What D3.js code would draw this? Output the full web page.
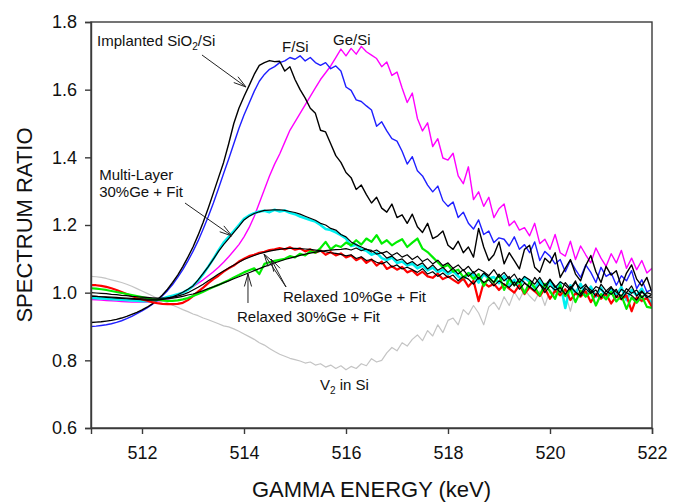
<!DOCTYPE html>
<html>
<head>
<meta charset="utf-8">
<script src="https://cdn.jsdelivr.net/npm/d3@7"></script>
<style>
  html, body { margin: 0; padding: 0; background: #fff; }
  svg { display: block; font-family: "Liberation Sans", Arial, sans-serif; }
</style>
</head>
<body>
<svg id="chart" width="679" height="502"></svg>
<script>
// ---------------- DATA ----------------
const energies = [
  511,511.1,511.2,511.3,511.4,511.5,511.6,511.7,511.8,511.9,
  512,512.1,512.2,512.3,512.4,512.5,512.6,512.7,512.8,512.9,
  513,513.1,513.2,513.3,513.4,513.5,513.6,513.7,513.8,513.9,
  514,514.1,514.2,514.3,514.4,514.5,514.6,514.7,514.8,514.9,
  515,515.1,515.2,515.3,515.4,515.5,515.6,515.7,515.8,515.9,
  516,516.1,516.2,516.3,516.4,516.5,516.6,516.7,516.8,516.9,
  517,517.1,517.2,517.3,517.4,517.5,517.6,517.7,517.8,517.9,
  518,518.1,518.2,518.3,518.4,518.5,518.6,518.7,518.8,518.9,
  519,519.1,519.2,519.3,519.4,519.5,519.6,519.7,519.8,519.9,
  520,520.1,520.2,520.3,520.4,520.5,520.6,520.7,520.8,520.9,
  521,521.1,521.2,521.3,521.4,521.5,521.6,521.7,521.8,521.9,
  522
];

const v2InSi = [
  1.048,1.047,1.045,1.042,1.038,1.034,1.030,1.025,1.019,1.012,
  1.005,0.998,0.991,0.983,0.976,0.970,0.963,0.957,0.950,0.944,
  0.937,0.932,0.925,0.920,0.914,0.908,0.902,0.899,0.893,0.886,
  0.878,0.870,0.862,0.852,0.845,0.835,0.826,0.818,0.812,0.806,
  0.802,0.798,0.792,0.795,0.786,0.790,0.780,0.786,0.776,0.784,
  0.772,0.782,0.776,0.790,0.784,0.805,0.795,0.800,0.822,0.838,
  0.828,0.852,0.842,0.862,0.875,0.858,0.888,0.872,0.905,0.882,
  0.918,0.925,0.905,0.950,0.935,0.962,0.940,0.905,0.958,0.972,
  0.950,0.988,0.962,1.002,0.978,1.010,0.990,0.975,1.005,0.962,
  1.008,0.992,1.012,0.998,0.945,1.008,0.990,1.018,1.000,0.988,
  1.012,0.985,1.000,1.008,0.982,0.995,1.010,0.988,0.972,0.995,
  0.975
];
const geSi = [
  0.980,0.979,0.978,0.977,0.976,0.975,0.974,0.973,0.972,0.972,
  0.972,0.972,0.973,0.975,0.977,0.980,0.985,0.992,1.000,1.008,
  1.018,1.028,1.038,1.050,1.062,1.075,1.090,1.106,1.124,1.142,
  1.165,1.192,1.225,1.265,1.305,1.345,1.380,1.410,1.445,1.480,
  1.505,1.530,1.555,1.580,1.605,1.630,1.650,1.670,1.695,1.720,
  1.700,1.722,1.705,1.728,1.712,1.702,1.692,1.668,1.682,1.642,
  1.652,1.605,1.562,1.590,1.515,1.478,1.502,1.432,1.455,1.398,
  1.392,1.412,1.345,1.322,1.372,1.275,1.298,1.255,1.282,1.222,
  1.248,1.262,1.198,1.212,1.185,1.192,1.168,1.205,1.145,1.158,
  1.128,1.172,1.118,1.108,1.152,1.098,1.138,1.112,1.088,1.132,
  1.102,1.078,1.115,1.088,1.125,1.072,1.102,1.068,1.095,1.058,
  1.072
];
const fSi = [
  0.900,0.901,0.903,0.905,0.908,0.912,0.917,0.923,0.930,0.938,
  0.946,0.955,0.965,0.977,0.991,1.006,1.024,1.045,1.068,1.094,
  1.122,1.153,1.188,1.225,1.265,1.308,1.352,1.395,1.440,1.485,
  1.525,1.560,1.595,1.625,1.645,1.660,1.668,1.680,1.685,1.695,
  1.690,1.700,1.685,1.695,1.680,1.672,1.680,1.662,1.670,1.655,
  1.608,1.598,1.570,1.565,1.552,1.540,1.492,1.505,1.478,1.455,
  1.448,1.418,1.380,1.402,1.360,1.345,1.318,1.298,1.315,1.272,
  1.255,1.268,1.222,1.238,1.205,1.188,1.215,1.172,1.182,1.148,
  1.162,1.158,1.138,1.165,1.128,1.142,1.118,1.150,1.095,1.122,
  1.108,1.085,1.098,1.062,1.095,1.068,1.045,1.082,1.060,1.030,
  1.075,1.048,1.058,1.022,1.050,1.035,1.065,1.012,1.038,1.002,
  1.010
];
const implantedSiO2 = [
  0.912,0.913,0.914,0.916,0.918,0.921,0.925,0.930,0.936,0.942,
  0.949,0.957,0.967,0.979,0.993,1.010,1.030,1.052,1.077,1.105,
  1.135,1.170,1.208,1.250,1.295,1.340,1.385,1.440,1.500,1.545,
  1.580,1.612,1.645,1.672,1.680,1.686,1.683,1.684,1.655,1.668,
  1.630,1.600,1.575,1.545,1.530,1.480,1.475,1.440,1.405,1.385,
  1.355,1.340,1.305,1.318,1.290,1.265,1.282,1.250,1.238,1.262,
  1.222,1.230,1.205,1.232,1.195,1.178,1.205,1.160,1.168,1.182,
  1.140,1.128,1.152,1.118,1.135,1.105,1.190,1.135,1.095,1.112,
  1.150,1.085,1.118,1.095,1.070,1.128,1.140,1.075,1.060,1.102,
  1.088,1.118,1.045,1.072,1.098,1.055,1.035,1.080,1.110,1.062,
  1.030,1.078,1.052,1.065,1.018,1.058,1.082,1.040,1.020,1.045,
  1.000
];
const multiLayer30 = [
  0.985,0.984,0.983,0.982,0.981,0.980,0.979,0.978,0.977,0.976,
  0.975,0.975,0.976,0.978,0.982,0.987,0.991,0.995,1.000,1.008,
  1.020,1.035,1.055,1.077,1.100,1.125,1.148,1.165,1.182,1.200,
  1.218,1.228,1.235,1.240,1.242,1.238,1.245,1.240,1.243,1.236,
  1.232,1.225,1.220,1.215,1.210,1.200,1.188,1.185,1.178,1.170,
  1.160,1.138,1.142,1.128,1.124,1.112,1.118,1.102,1.096,1.104,
  1.088,1.092,1.080,1.086,1.072,1.080,1.066,1.074,1.060,1.068,
  1.055,1.064,1.048,1.038,1.058,1.052,1.030,1.055,1.042,1.046,
  1.028,1.050,1.022,1.038,1.018,1.045,1.032,1.012,1.036,1.008,
  1.034,1.002,1.030,0.955,1.022,0.998,1.026,0.992,1.018,0.988,
  1.015,0.982,1.012,0.992,1.016,0.978,1.008,0.992,1.012,0.984,
  0.968
];
const relaxed10 = [
  1.022,1.022,1.020,1.017,1.013,1.008,1.002,0.996,0.990,0.985,
  0.980,0.976,0.972,0.969,0.967,0.966,0.966,0.967,0.970,0.978,
  0.990,1.003,1.015,1.028,1.040,1.050,1.062,1.072,1.080,1.092,
  1.100,1.108,1.112,1.118,1.121,1.126,1.128,1.132,1.128,1.134,
  1.127,1.131,1.122,1.128,1.118,1.125,1.112,1.120,1.110,1.116,
  1.104,1.110,1.096,1.104,1.088,1.098,1.080,1.092,1.070,1.078,
  1.068,1.076,1.060,1.066,1.052,1.062,1.048,1.044,1.056,1.040,
  1.048,1.038,1.028,1.042,1.018,1.035,0.975,1.030,1.018,1.026,
  1.008,1.025,1.012,1.000,1.022,0.996,1.016,1.004,0.990,1.012,
  0.982,1.006,0.992,1.010,0.978,0.998,0.988,1.004,0.972,0.996,
  0.982,0.996,0.968,0.990,0.980,0.992,0.945,0.986,0.976,0.984,
  0.958
];
const relaxed30 = [
  1.013,1.012,1.010,1.008,1.005,1.002,0.999,0.996,0.993,0.990,
  0.987,0.984,0.981,0.979,0.977,0.976,0.976,0.977,0.980,0.984,
  0.990,0.996,1.003,1.010,1.017,1.023,1.030,1.037,1.045,1.052,
  1.060,1.066,1.072,1.055,1.085,1.090,1.094,1.097,1.100,1.108,
  1.104,1.115,1.110,1.122,1.118,1.132,1.150,1.128,1.140,1.135,
  1.148,1.140,1.155,1.142,1.160,1.150,1.170,1.145,1.155,1.140,
  1.150,1.158,1.135,1.148,1.160,1.130,1.120,1.105,1.090,1.075,
  1.082,1.062,1.068,1.045,1.058,1.040,1.055,1.020,1.045,1.030,
  1.052,1.008,1.040,1.022,1.034,0.998,1.032,1.016,0.992,1.026,
  1.004,0.982,1.022,0.990,1.012,0.972,1.006,0.988,1.002,0.962,
  0.996,0.980,1.002,0.974,0.992,0.952,0.986,0.970,0.990,0.958,
  0.955
];
const fitMultiLayer30 = [
  0.990,0.989,0.988,0.986,0.985,0.984,0.983,0.982,0.981,0.980,
  0.979,0.978,0.978,0.978,0.980,0.984,0.988,0.994,1.001,1.010,
  1.020,1.038,1.057,1.077,1.099,1.122,1.142,1.160,1.178,1.196,
  1.215,1.226,1.234,1.239,1.243,1.244,1.245,1.245,1.243,1.240,
  1.237,1.232,1.226,1.220,1.214,1.205,1.200,1.190,1.185,1.172,
  1.165,1.150,1.142,1.135,1.128,1.125,1.114,1.118,1.102,1.108,
  1.095,1.100,1.085,1.092,1.080,1.088,1.070,1.082,1.066,1.075,
  1.060,1.072,1.055,1.068,1.048,1.062,1.040,1.058,1.045,1.030,
  1.055,1.035,1.048,1.020,1.042,1.030,1.015,1.045,1.025,1.010,
  1.038,1.020,1.000,1.030,1.012,1.035,0.995,1.020,1.008,0.990,
  1.025,1.005,1.018,0.985,1.010,1.000,1.020,0.990,1.005,0.985,
  0.995
];
const fitRelaxed10 = [
  1.000,0.999,0.998,0.997,0.995,0.994,0.992,0.991,0.989,0.988,
  0.987,0.986,0.985,0.984,0.984,0.985,0.987,0.990,0.994,1.000,
  1.008,1.016,1.025,1.035,1.045,1.055,1.064,1.073,1.082,1.090,
  1.098,1.104,1.110,1.115,1.119,1.123,1.126,1.128,1.130,1.131,
  1.131,1.130,1.129,1.128,1.126,1.124,1.121,1.118,1.116,1.113,
  1.109,1.112,1.101,1.106,1.095,1.098,1.090,1.085,1.092,1.076,
  1.082,1.070,1.075,1.068,1.060,1.071,1.055,1.062,1.048,1.058,
  1.045,1.052,1.035,1.048,1.040,1.025,1.045,1.030,1.038,1.020,
  1.035,1.025,1.015,1.032,1.010,1.028,1.018,1.005,1.025,1.000,
  1.020,1.008,1.015,0.995,1.018,1.002,0.990,1.012,0.998,1.008,
  0.985,1.005,0.995,1.010,0.980,1.000,0.992,0.978,1.002,0.990,
  0.985
];
const fitRelaxed30 = [
  0.990,0.989,0.988,0.988,0.987,0.986,0.985,0.984,0.983,0.982,
  0.982,0.981,0.981,0.981,0.981,0.982,0.984,0.986,0.989,0.993,
  0.996,1.001,1.006,1.012,1.017,1.023,1.029,1.035,1.041,1.047,
  1.053,1.059,1.065,1.071,1.077,1.082,1.088,1.093,1.098,1.102,
  1.106,1.110,1.114,1.117,1.120,1.122,1.124,1.126,1.127,1.128,
  1.130,1.126,1.132,1.124,1.129,1.120,1.126,1.116,1.122,1.110,
  1.118,1.105,1.112,1.098,1.108,1.092,1.100,1.085,1.096,1.080,
  1.088,1.072,1.082,1.065,1.078,1.058,1.070,1.062,1.050,1.068,
  1.045,1.060,1.040,1.055,1.030,1.048,1.038,1.025,1.045,1.020,
  1.040,1.015,1.032,1.022,1.008,1.030,1.012,1.025,1.000,1.018,
  1.010,0.995,1.015,1.002,0.990,1.012,0.998,1.008,0.985,1.000,
  0.995
];

const xTicks = [512, 514, 516, 518, 520, 522];
const yTicks = [0.6, 0.8, 1.0, 1.2, 1.4, 1.6, 1.8];

// series list (drawing order)
const series = [
  { name: "V2 in Si",        y: v2InSi,          color: "#c4c4c4", width: 1.2 },
  { name: "Ge/Si",           y: geSi,            color: "#ff00ff", width: 1.4 },
  { name: "F/Si",            y: fSi,             color: "#1f1fff", width: 1.4 },
  { name: "Implanted SiO2",  y: implantedSiO2,   color: "#000000", width: 1.4 },
  { name: "Multi-Layer 30%", y: multiLayer30,    color: "#00f0f0", width: 2.6 },
  { name: "Relaxed 10%",     y: relaxed10,       color: "#ff0000", width: 2.2 },
  { name: "Relaxed 30%",     y: relaxed30,       color: "#00ee00", width: 2.2 },
  { name: "Fit ML30",        y: fitMultiLayer30, color: "#000000", width: 1.2 },
  { name: "Fit R10",         y: fitRelaxed10,    color: "#000000", width: 1.2 },
  { name: "Fit R30",         y: fitRelaxed30,    color: "#000000", width: 1.2 }
];

// annotations in data units
const labels = [
  { parts: [["Implanted SiO"], ["2", "sub"], ["/Si"]], e: 511.12, v: 1.729 },
  { parts: [["F/Si"]], e: 514.745, v: 1.711 },
  { parts: [["Ge/Si"]], e: 515.745, v: 1.732 },
  { parts: [["Multi-Layer"]], e: 511.16, v: 1.333 },
  { parts: [["30%Ge + Fit"]], e: 511.16, v: 1.283 },
  { parts: [["Relaxed 10%Ge + Fit"]], e: 514.765, v: 0.972 },
  { parts: [["Relaxed 30%Ge + Fit"]], e: 513.863, v: 0.913 },
  { parts: [["V"], ["2", "sub"], [" in Si"]], e: 515.49, v: 0.712 }
];
const arrows = [
  { e0: 513.176, v0: 1.7025, e1: 514.039, v1: 1.6079 },
  { e0: 512.843, v0: 1.2650, e1: 513.765, v1: 1.1675 },
  { e0: 514.824, v0: 1.0168, e1: 514.392, v1: 1.1143 },
  { e0: 514.824, v0: 1.0168, e1: 514.529, v1: 1.0995 },
  { e0: 514.078, v0: 0.9695, e1: 514.078, v1: 1.0552 }
];

// ---------------- CHART ----------------
const W = 679, H = 502;
const m = { left: 91, right: 27, top: 22, bottom: 74 };
const svg = d3.select("#chart");

const x = d3.scaleLinear().domain([511, 522]).range([m.left, W - m.right]);
const y = d3.scaleLinear().domain([0.6, 1.8]).range([H - m.bottom, m.top]);

svg.append("clipPath").attr("id", "clip")
  .append("rect").attr("x", m.left).attr("y", m.top)
  .attr("width", W - m.left - m.right).attr("height", H - m.top - m.bottom);

const line = d3.line().x(d => x(d[0])).y(d => y(d[1]));
const gLines = svg.append("g").attr("clip-path", "url(#clip)");
series.forEach(s => {
  const pts = energies.map((e, i) => [e, s.y[i]]);
  gLines.append("path").datum(pts)
    .attr("d", line)
    .attr("fill", "none")
    .attr("stroke", s.color)
    .attr("stroke-width", s.width)
    .attr("stroke-linejoin", "round");
});

// frame
const axisColor = "#3a3a3a";
svg.append("rect")
  .attr("x", m.left).attr("y", m.top)
  .attr("width", W - m.left - m.right).attr("height", H - m.top - m.bottom)
  .attr("fill", "none").attr("stroke", axisColor).attr("stroke-width", 1.4);

// axes
const xAxis = svg.append("g")
  .attr("transform", `translate(0,${H - m.bottom})`)
  .call(d3.axisBottom(x).tickValues(xTicks).tickFormat(d3.format("d")).tickSizeOuter(0).tickSize(6).tickPadding(12));
const yAxis = svg.append("g")
  .attr("transform", `translate(${m.left},0)`)
  .call(d3.axisLeft(y).tickValues(yTicks).tickFormat(d3.format(".1f")).tickSizeOuter(0).tickSize(6).tickPadding(8));
[xAxis, yAxis].forEach(g => {
  g.select(".domain").attr("stroke", axisColor).attr("stroke-width", 1.4);
  g.selectAll(".tick line").attr("stroke", axisColor).attr("stroke-width", 1.4);
  g.selectAll(".tick text").attr("fill", "#111").style("font-size", "18px")
    .style("font-family", '"Liberation Sans", Arial, sans-serif');
});

// axis titles
svg.append("text")
  .attr("x", (m.left + W - m.right) / 2).attr("y", 497)
  .attr("text-anchor", "middle").attr("fill", "#111")
  .style("font-size", "22px").text("GAMMA ENERGY (keV)");
svg.append("text")
  .attr("transform", `translate(32,${(m.top + H - m.bottom) / 2}) rotate(-90)`)
  .attr("text-anchor", "middle").attr("fill", "#111")
  .style("font-size", "22px").text("SPECTRUM RATIO");

// labels
labels.forEach(l => {
  const t = svg.append("text").attr("x", x(l.e)).attr("y", y(l.v))
    .attr("fill", "#111").style("font-size", "15px");
  l.parts.forEach((p, i) => {
    if (p[1] === "sub") {
      t.append("tspan").attr("dy", 4).style("font-size", "10px").text(p[0]);
    } else {
      const ts = t.append("tspan").text(p[0]);
      if (i > 0) ts.attr("dy", -4);
    }
  });
});

// arrows
arrows.forEach(a => {
  const x0 = x(a.e0), y0 = y(a.v0), x1 = x(a.e1), y1 = y(a.v1);
  const ang = Math.atan2(y1 - y0, x1 - x0);
  const L = 13, spread = 0.28;
  const g = svg.append("g").attr("stroke", "#222").attr("stroke-width", 1).attr("fill", "none");
  g.append("line").attr("x1", x0).attr("y1", y0).attr("x2", x1).attr("y2", y1);
  [ang + Math.PI - spread, ang + Math.PI + spread].forEach(b => {
    g.append("line").attr("x1", x1).attr("y1", y1)
      .attr("x2", x1 + L * Math.cos(b)).attr("y2", y1 + L * Math.sin(b));
  });
});
</script>
</body>
</html>
